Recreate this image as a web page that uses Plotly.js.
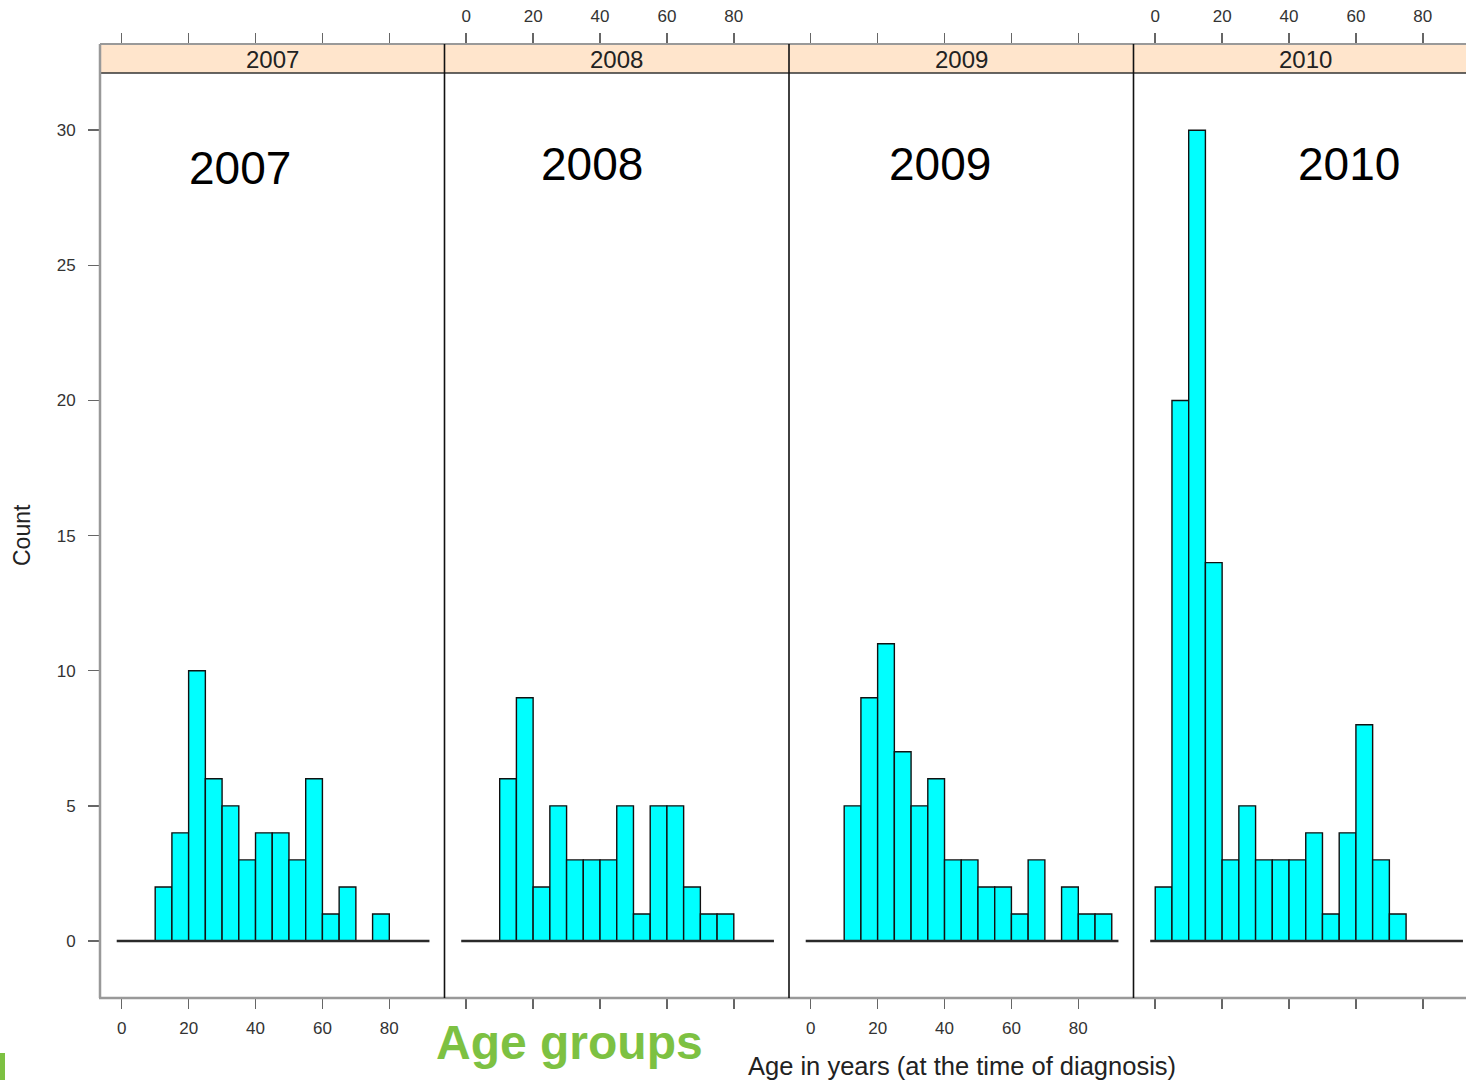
<!DOCTYPE html>
<html>
<head>
<meta charset="utf-8">
<script src="https://cdn.plot.ly/plotly-3.0.1.min.js"></script>
<style>html,body{margin:0;padding:0;background:#fff;}#chart{width:1466px;height:1080px;}</style>
</head>
<body>
<div id="chart"></div>
<script>
// ---- data ----
const years = ["2007", "2008", "2009", "2010"];
const binStarts = [0,5,10,15,20,25,30,35,40,45,50,55,60,65,70,75,80,85];
const binWidth = 5;
const counts2007 = [0,0,2,4,10,6,5,3,4,4,3,6,1,2,0,1,0,0];
const counts2008 = [0,0,6,9,2,5,3,3,3,5,1,5,5,2,1,1,0,0];
const counts2009 = [0,0,5,9,11,7,5,6,3,3,2,2,1,3,0,2,1,1];
const counts2010 = [2,20,30,14,3,5,3,3,3,4,1,4,8,3,1,0,0,0];
const histExtent = [-1.5, 92];
const xTicks = [0, 20, 40, 60, 80];
const yTicks = [0, 5, 10, 15, 20, 25, 30];
const yLabel = "Count";
const xLabel = "Age in years (at the time of diagnosis)";
const sideNote = "Age groups";
const allCounts = [counts2007, counts2008, counts2009, counts2010];

// ---- geometry helpers (pixels -> paper) ----
const W = 1466, H = 1080;
const px = v => v / W;
const py = v => 1 - v / H;
const panelEdges = [100, 444.5, 789, 1133.5, 1478];
const plotTop = 44, plotBottom = 998, stripBottom = 73;
const font = "Liberation Sans, Arial, Helvetica, sans-serif";
const unitPx = 344.5 / 103; // px per x unit

const traces = [];
allCounts.forEach((c, i) => {
  const ax = i === 0 ? "x" : "x" + (i + 1);
  traces.push({
    type: "bar",
    x: binStarts.map(b => b + binWidth / 2),
    y: c,
    width: binStarts.map(() => binWidth),
    xaxis: ax, yaxis: "y",
    marker: {color: "#00ffff", line: {color: "#111", width: 1.4}},
    hoverinfo: "x+y", showlegend: false
  });
  traces.push({
    type: "scatter", mode: "lines",
    x: histExtent, y: [0, 0],
    xaxis: ax, yaxis: "y",
    line: {color: "#2a2a2a", width: 2.4},
    hoverinfo: "skip", showlegend: false
  });
});

const layout = {
  width: W, height: H,
  margin: {l: 0, r: 0, t: 0, b: 0},
  paper_bgcolor: "#fff", plot_bgcolor: "rgba(0,0,0,0)",
  bargap: 0, barmode: "overlay",
  showlegend: false,
  font: {family: font, color: "#333"},
  yaxis: {
    domain: [py(plotBottom), py(plotTop)],
    range: [-2.11, 33.19],
    tickvals: yTicks, ticks: "outside", ticklen: 11, tickwidth: 1.5, tickcolor: "#666",
    tickfont: {size: 17, color: "#333", family: font},
    ticklabelstandoff: 9,
    showgrid: false, zeroline: false, showline: false,
    anchor: "x", fixedrange: true
  },
  shapes: [], annotations: []
};

for (let i = 0; i < 4; i++) {
  const key = i === 0 ? "xaxis" : "xaxis" + (i + 1);
  const left = panelEdges[i];
  const right = Math.min(panelEdges[i + 1], W);
  const x0 = -6.5;
  const x1 = x0 + (right - left) / unitPx;
  layout[key] = {
    domain: [px(left), px(right)],
    range: [x0, x1],
    anchor: "y",
    side: (i % 2 === 0) ? "bottom" : "top",
    mirror: "ticks",
    tickvals: xTicks, ticks: "outside", ticklen: 10, tickwidth: 1.5, tickcolor: "#666",
    tickfont: {size: 17, color: "#333", family: font},
    ticklabelstandoff: (i % 2 === 0) ? 5 : 4,
    showgrid: false, zeroline: false, showline: false, fixedrange: true
  };
  // strip
  layout.shapes.push({type: "rect", xref: "paper", yref: "paper",
    x0: px(left), x1: px(Math.min(panelEdges[i + 1], W + 20)), y0: py(stripBottom), y1: py(plotTop),
    fillcolor: "#ffe5cc", line: {width: 0}, layer: "above"});
  layout.annotations.push({xref: "paper", yref: "paper",
    x: px((panelEdges[i] + panelEdges[i + 1]) / 2), y: py((plotTop + stripBottom) / 2 + 1),
    text: years[i], showarrow: false, xanchor: "center", yanchor: "middle",
    font: {size: 24, color: "#222", family: font}});
}

// strip lines
layout.shapes.push({type: "line", xref: "paper", yref: "paper", x0: px(100), x1: 1.01, y0: py(stripBottom), y1: py(stripBottom), line: {color: "#333", width: 1.5}, layer: "above"});
layout.shapes.push({type: "line", xref: "paper", yref: "paper", x0: px(100), x1: 1.01, y0: py(plotTop), y1: py(plotTop), line: {color: "#999", width: 2}, layer: "above"});
// outer frame
layout.shapes.push({type: "line", xref: "paper", yref: "paper", x0: px(100), x1: px(100), y0: py(plotTop), y1: py(plotBottom), line: {color: "#999", width: 2.5}, layer: "above"});
layout.shapes.push({type: "line", xref: "paper", yref: "paper", x0: px(99), x1: 1.01, y0: py(plotBottom), y1: py(plotBottom), line: {color: "#999", width: 2.5}, layer: "above"});
// panel dividers
[1, 2, 3].forEach(i => {
  layout.shapes.push({type: "line", xref: "paper", yref: "paper", x0: px(panelEdges[i]), x1: px(panelEdges[i]), y0: py(plotTop), y1: py(plotBottom), line: {color: "#111", width: 1.6}, layer: "above"});
});
// green marker at bottom-left
layout.shapes.push({type: "rect", xref: "paper", yref: "paper", x0: 0, x1: px(5), y0: 0, y1: py(1053), fillcolor: "#7dc142", line: {width: 0}});

// big year labels in panels
const bigPos = [[240, 168], [592, 164], [940, 164], [1349, 164]];
years.forEach((y, i) => {
  layout.annotations.push({xref: "paper", yref: "paper", x: px(bigPos[i][0]), y: py(bigPos[i][1]),
    text: y, showarrow: false, xanchor: "center", yanchor: "middle",
    font: {size: 46, color: "#000", family: font}});
});
// axis titles
layout.annotations.push({xref: "paper", yref: "paper", x: px(22), y: py(535), text: yLabel,
  textangle: -90, showarrow: false, xanchor: "center", yanchor: "middle",
  font: {size: 23, color: "#222", family: font}});
layout.annotations.push({xref: "paper", yref: "paper", x: px(962), y: py(1066), text: xLabel,
  showarrow: false, xanchor: "center", yanchor: "middle",
  font: {size: 25.5, color: "#222", family: font}});
layout.annotations.push({xref: "paper", yref: "paper", x: px(569), y: py(1042), text: "<b>" + sideNote + "</b>",
  showarrow: false, xanchor: "center", yanchor: "middle",
  font: {size: 48, color: "#7dc142", family: font}});

Plotly.newPlot("chart", traces, layout, {displayModeBar: false, staticPlot: true});
</script>
</body>
</html>
